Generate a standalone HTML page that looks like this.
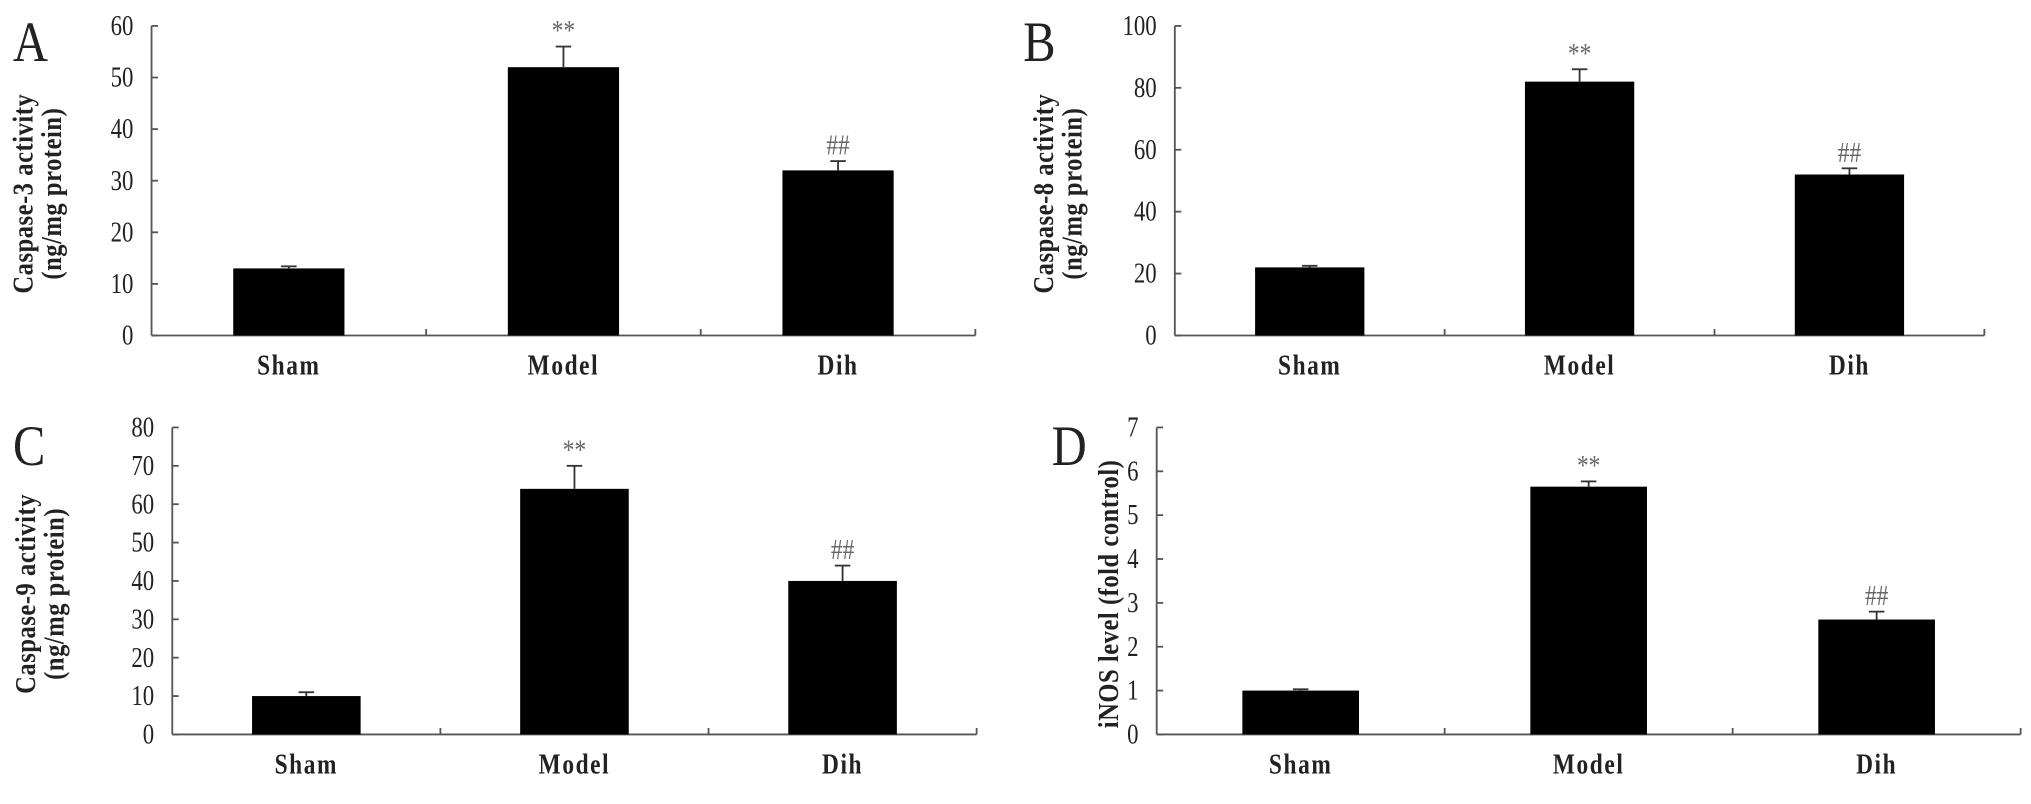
<!DOCTYPE html>
<html><head><meta charset="utf-8"><style>
html,body{margin:0;padding:0;background:#fff;}
svg{display:block;}
text{font-family:"Liberation Serif",serif;fill:#222;}
</style></head><body>
<svg id="fig" width="2031" height="804" viewBox="0 0 1568 620.7" xmlns="http://www.w3.org/2000/svg"></svg>
<script>
const categories = ["Sham","Model","Dih"];
const valuesA = [13, 52, 32];
const errorsA = [0.4, 4, 1.8];
const valuesB = [22, 82, 52];
const errorsB = [0.5, 4, 2];
const valuesC = [10, 64, 40];
const errorsC = [1, 6, 4];
const valuesD = [1, 5.65, 2.62];
const errorsD = [0.03, 0.12, 0.18];
const ticksA = [0,10,20,30,40,50,60];
const ticksB = [0,20,40,60,80,100];
const ticksC = [0,10,20,30,40,50,60,70,80];
const ticksD = [0,1,2,3,4,5,6,7];
const marksModel = "**";
const marksDih = "##";

const NS = "http://www.w3.org/2000/svg";
const svg = document.getElementById('fig');
function mk(tag, attrs, parent){
  const e = document.createElementNS(NS, tag);
  for (const k in attrs) e.setAttribute(k, attrs[k]);
  (parent||svg).appendChild(e);
  return e;
}
function ctext(parent, x, y, str, size, anchor, sx, extra){
  const g = mk('g',{transform:`translate(${x} ${y}) scale(${sx} 1)`},parent);
  const a = Object.assign({x:0,y:0,'font-size':size,'text-anchor':anchor}, extra||{});
  const t = mk('text',a,g);
  t.textContent = str;
  return t;
}
const panels = [
  {id:'a', letter:'A', lx:10, ly:47, x0:117, x1:753, top:20, bot:259, vals:valuesA, errs:errorsA, ticks:ticksA, lab:["Caspase-3 activity","(ng/mg protein)"], labx:20},
  {id:'b', letter:'B', lx:790, ly:47, x0:907, x1:1532, top:20, bot:259, vals:valuesB, errs:errorsB, ticks:ticksB, lab:["Caspase-8 activity","(ng/mg protein)"], labx:808},
  {id:'c', letter:'C', lx:10, ly:359, x0:133, x1:754, top:330, bot:567, vals:valuesC, errs:errorsC, ticks:ticksC, lab:["Caspase-9 activity","(ng/mg protein)"], labx:22},
  {id:'d', letter:'D', lx:812, ly:359, x0:893, x1:1560, top:330, bot:567, vals:valuesD, errs:errorsD, ticks:ticksD, lab:["iNOS level (fold control)"], labx:858}
];
panels.forEach(p=>{
  const g = mk('g',{});
  
  
  const ymax = p.ticks[p.ticks.length-1];
  const y = v => p.bot - (v/ymax)*(p.bot-p.top);
  const cw = (p.x1-p.x0)/categories.length;
  const xc = i => p.x0 + cw*(i+0.5);
  const L = ctext(g, p.lx, p.ly, p.letter, 44, 'start', 0.85);
  
  
  const ya = mk('line',{x1:p.x0,y1:p.top,x2:p.x0,y2:p.bot,stroke:'#555','stroke-width':1.4},g);
  
  
  p.ticks.forEach(t=>{
    mk('line',{x1:p.x0,y1:y(t),x2:p.x0+5,y2:y(t),stroke:'#555','stroke-width':1.4},g);
    const tl = ctext(g, p.x0-14, y(t)+7, String(t), 22, 'end', 0.8);
    
    
  });
  const xa = mk('line',{x1:p.x0,y1:p.bot,x2:p.x1,y2:p.bot,stroke:'#555','stroke-width':1.4},g);
  
  
  for(let i=1;i<=categories.length;i++){
    mk('line',{x1:p.x0+cw*i,y1:p.bot,x2:p.x0+cw*i,y2:p.bot-5,stroke:'#555','stroke-width':1.4},g);
  }
  categories.forEach((c,i)=>{
    const bw = cw*0.405;
    const bar = mk('rect',{x:xc(i)-bw/2,y:y(p.vals[i]),width:bw,height:p.bot-y(p.vals[i]),fill:'#000'},g);
    
    
    const ye = y(p.vals[i]+p.errs[i]);
    mk('line',{x1:xc(i),y1:y(p.vals[i]),x2:xc(i),y2:ye,stroke:'#333','stroke-width':1.4},g);
    mk('line',{x1:xc(i)-6,y1:ye,x2:xc(i)+6,y2:ye,stroke:'#333','stroke-width':1.4},g);
    const xl = ctext(g, xc(i), p.bot+30, c, 22, 'middle', 0.82, {'font-weight':'bold','letter-spacing':'1.5'});
    
    
    if(i>0){
      const m = ctext(g, xc(i), ye-5, i===1?marksModel:marksDih, 22, 'middle', 0.82, {style:'fill:#666'});
      
      
    }
  });
  const cy = (p.top+p.bot)/2 + 10;
  p.lab.forEach((s,k)=>{
    const lx = p.labx + k*22;
    const gg = mk('g',{transform:`translate(${lx} ${cy}) rotate(-90) scale(0.86 1)`},g);
    const t = mk('text',{x:0,y:0,'font-size':22,'font-weight':'bold','text-anchor':'middle','dominant-baseline':'middle','letter-spacing':'0.5'},gg);
    t.textContent=s;
    
    
  });
});
</script>
</body></html>
